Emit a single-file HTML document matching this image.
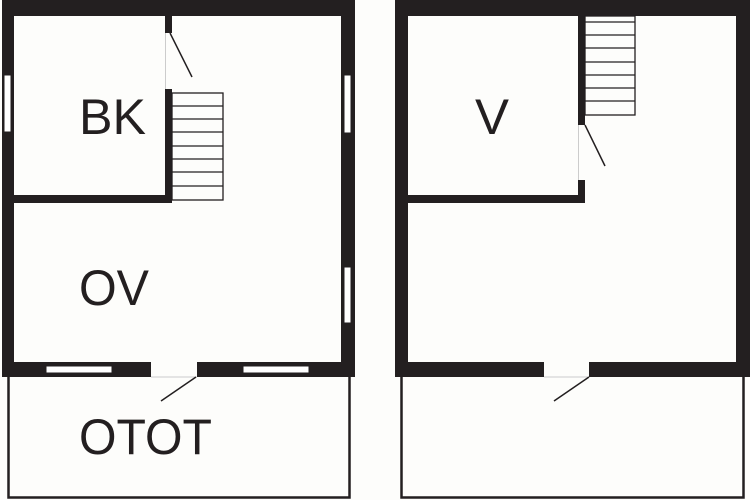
<!DOCTYPE html>
<html><head><style>html,body{margin:0;padding:0;background:#fff}svg{display:block}</style></head>
<body>
<svg width="750" height="500" viewBox="0 0 750 500" xmlns="http://www.w3.org/2000/svg">
<rect width="750" height="500" fill="#fdfdfb"/>
<g fill="#231f20" stroke="none">
<!-- LEFT PLAN -->
<rect x="2" y="0" width="353" height="16"/>
<rect x="2" y="0" width="12" height="377"/>
<rect x="341" y="0" width="14" height="377"/>
<rect x="2" y="362" width="149" height="15"/>
<rect x="197" y="362" width="158" height="15"/>
<rect x="14" y="195" width="158" height="8"/>
<rect x="165" y="16" width="7" height="17"/>
<rect x="165" y="89" width="7" height="114"/>
<!-- RIGHT PLAN -->
<rect x="395" y="0" width="355" height="16"/>
<rect x="395" y="0" width="13" height="377"/>
<rect x="736" y="0" width="14" height="377"/>
<rect x="395" y="362" width="149" height="15"/>
<rect x="589" y="362" width="161" height="15"/>
<rect x="408" y="195" width="177" height="8"/>
<rect x="578" y="16" width="7" height="109"/>
<rect x="578" y="180" width="7" height="23"/>
</g>
<!-- windows -->
<g fill="#fff" stroke="#231f20" stroke-width="1">
<rect x="4" y="75" width="7" height="57"/>
<rect x="344" y="75" width="7" height="58"/>
<rect x="344" y="267" width="7" height="56"/>
<rect x="46" y="366" width="66" height="7"/>
<rect x="243" y="366" width="66" height="7"/>
</g>
<g fill="none" stroke="#231f20">
<!-- door frames -->
<line x1="165.5" y1="33" x2="165.5" y2="89" stroke="#ccc" stroke-width="1"/>
<line x1="578.5" y1="125" x2="578.5" y2="180" stroke="#ccc" stroke-width="1"/>
<line x1="151" y1="377" x2="197" y2="377" stroke="#ccc" stroke-width="1"/>
<line x1="544" y1="377" x2="589" y2="377" stroke="#ccc" stroke-width="1"/>
<!-- door leaves -->
<line x1="170" y1="33" x2="192" y2="77" stroke-width="1.5"/>
<line x1="585" y1="125" x2="605" y2="166" stroke-width="1.5"/>
<line x1="196" y1="377" x2="161" y2="401" stroke-width="1.5"/>
<line x1="589" y1="377" x2="554" y2="401" stroke-width="1.5"/>
<!-- porches -->
<path d="M8.5 377 V497.5 H349.5 V377" stroke-width="2.5"/>
<path d="M401.5 377 V497.5 H743.5 V377" stroke-width="2.5"/>
<!-- stairs left -->
<g stroke-width="1.3">
<rect x="172" y="93" width="51" height="107"/>
<line x1="172" y1="106" x2="223" y2="106"/><line x1="172" y1="119" x2="223" y2="119"/>
<line x1="172" y1="132" x2="223" y2="132"/><line x1="172" y1="146" x2="223" y2="146"/>
<line x1="172" y1="159" x2="223" y2="159"/><line x1="172" y1="172" x2="223" y2="172"/>
<line x1="172" y1="186" x2="223" y2="186"/>
<!-- stairs right -->
<rect x="585" y="16" width="50" height="99"/>
<line x1="585" y1="22" x2="635" y2="22"/><line x1="585" y1="35" x2="635" y2="35"/>
<line x1="585" y1="48" x2="635" y2="48"/><line x1="585" y1="62" x2="635" y2="62"/>
<line x1="585" y1="75" x2="635" y2="75"/><line x1="585" y1="88" x2="635" y2="88"/>
<line x1="585" y1="101" x2="635" y2="101"/>
</g>
</g>
<g font-family="Liberation Sans, sans-serif" font-size="50" fill="#231f20">
<text x="79" y="134" textLength="67" lengthAdjust="spacingAndGlyphs">BK</text>
<text x="79" y="305" textLength="70" lengthAdjust="spacingAndGlyphs">OV</text>
<text x="79" y="454" textLength="133" lengthAdjust="spacingAndGlyphs">OTOT</text>
<text x="475" y="134" textLength="34" lengthAdjust="spacingAndGlyphs">V</text>
</g>
</svg>
</body></html>
